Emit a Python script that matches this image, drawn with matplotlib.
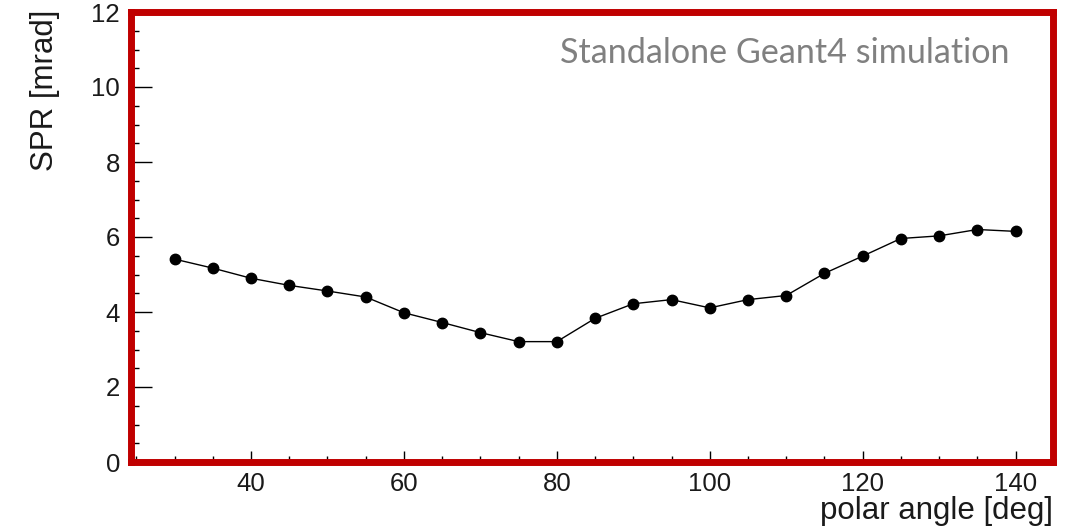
import matplotlib
matplotlib.use("Agg")
import matplotlib.pyplot as plt
from matplotlib.ticker import MultipleLocator

# SPR vs polar angle
angle = [30, 35, 40, 45, 50, 55, 60, 65, 70, 75, 80, 85,
         90, 95, 100, 105, 110, 115, 120, 125, 130, 135, 140]
spr = [5.41, 5.17, 4.90, 4.71, 4.56, 4.40, 3.98, 3.72, 3.45, 3.21, 3.21, 3.83,
       4.22, 4.33, 4.11, 4.33, 4.44, 5.03, 5.49, 5.96, 6.03, 6.20, 6.15]

xlabel = "polar angle [deg]"
ylabel = "SPR [mrad]"
note = "Standalone Geant4 simulation"

W, H = 1079, 528
fig = plt.figure(figsize=(W / 100, H / 100), dpi=100)
ax = fig.add_axes([131 / W, 1 - 462 / H, (1053 - 131) / W, (462 - 12) / H])

ax.plot(angle, spr, color="black", lw=1.0, marker="o", ms=7.5,
        markerfacecolor="black", markeredgecolor="black", zorder=3)

ax.set_xlim(24.3, 144.9)
ax.set_ylim(0, 12)
ax.xaxis.set_major_locator(MultipleLocator(20))
ax.xaxis.set_minor_locator(MultipleLocator(5))
ax.yaxis.set_major_locator(MultipleLocator(2))
ax.yaxis.set_minor_locator(MultipleLocator(0.5))

tick_font = "Liberation Sans"
ax.tick_params(axis="both", which="both", direction="in", colors="black",
               top=False, right=False)
ax.tick_params(axis="y", which="major", length=15, width=1.0, pad=8)
ax.tick_params(axis="y", which="minor", length=6, width=1.0)
ax.tick_params(axis="x", which="major", length=8, width=1.0, pad=7)
ax.tick_params(axis="x", which="minor", length=4, width=1.0)
for lab in ax.get_xticklabels() + ax.get_yticklabels():
    lab.set_fontfamily(tick_font)
    lab.set_fontsize(18.5)
    lab.set_color("#1a1a1a")

for s in ax.spines.values():
    s.set_color("#c00000")
    s.set_linewidth(5)
    s.set_capstyle("projecting")
    s.set_zorder(4)

fig.text(1053 / W, 1 - 511 / H, xlabel, ha="right", va="center",
         fontsize=22.5, family=tick_font, color="#1a1a1a")
fig.text(45 / W, 1 - 10 / H, ylabel, ha="center", va="top", rotation=90,
         fontsize=22.5, family=tick_font, color="#1a1a1a")

ax.text(0.953, 0.908, note, transform=ax.transAxes, ha="right", va="center",
        fontsize=24.6, family="Lato", color="#808080")

fig.savefig("out.png", dpi=100)
